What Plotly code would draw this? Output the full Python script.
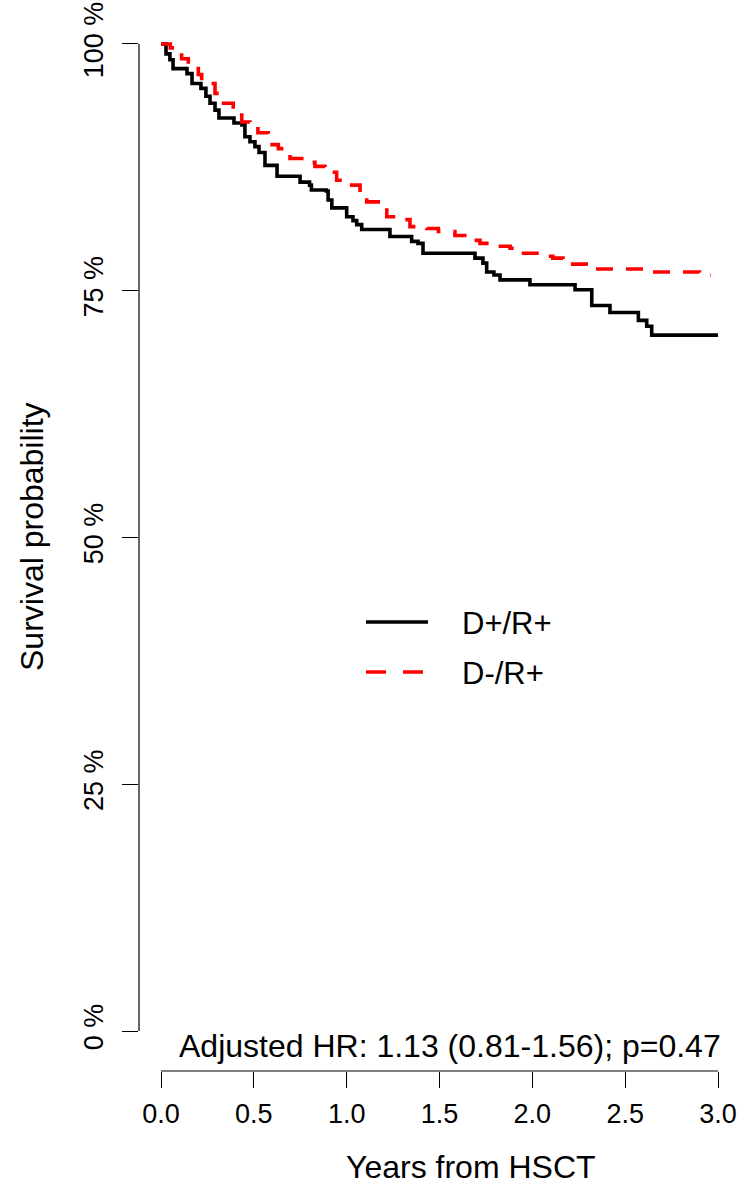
import plotly.graph_objects as go

# D+/R+ (black, solid) step times (years) and survival after each step
t_pos = [0.0, 0.027, 0.048, 0.065, 0.14, 0.167, 0.215, 0.242, 0.264, 0.291, 0.312, 0.393, 0.436,
         0.452, 0.479, 0.506, 0.528, 0.560, 0.625, 0.749, 0.80, 0.81, 0.89, 0.90, 0.92, 1.0, 1.034,
         1.054, 1.081, 1.233, 1.35, 1.384, 1.411, 1.691, 1.734, 1.754, 1.793, 1.826, 1.987, 2.23,
         2.32, 2.418, 2.571, 2.616, 2.643, 3.0]
s_pos = [1.0, 0.99, 0.984, 0.975, 0.970, 0.960, 0.955, 0.947, 0.940, 0.933, 0.925, 0.920, 0.918,
         0.906, 0.901, 0.896, 0.890, 0.877, 0.866, 0.860, 0.857, 0.852, 0.851, 0.842, 0.834, 0.825, 0.821,
         0.817, 0.812, 0.805, 0.800, 0.798, 0.788, 0.783, 0.778, 0.769, 0.766, 0.761, 0.756, 0.751,
         0.735, 0.728, 0.720, 0.714, 0.705, 0.705]

# D-/R+ (red, dashed)
t_neg = [0.0, 0.05, 0.111, 0.147, 0.201, 0.219, 0.291, 0.327, 0.389, 0.435, 0.479, 0.522, 0.578,
         0.632, 0.695, 0.758, 0.829, 0.883, 0.946, 1.009, 1.072, 1.108, 1.170, 1.216, 1.287, 1.341,
         1.431, 1.494, 1.583, 1.646, 1.718, 1.790, 1.880, 1.907, 2.057, 2.11, 2.165, 2.29, 2.64, 2.90, 2.96]
s_neg = [1.0, 0.996, 0.985, 0.979, 0.969, 0.960, 0.950, 0.940, 0.931, 0.921, 0.914, 0.910, 0.898,
         0.894, 0.884, 0.880, 0.876, 0.870, 0.862, 0.857, 0.850, 0.840, 0.834, 0.825, 0.822, 0.815,
         0.813, 0.810, 0.806, 0.801, 0.798, 0.795, 0.793, 0.788, 0.785, 0.783, 0.777, 0.772, 0.769, 0.766, 0.766]

x_ticks = [0.0, 0.5, 1.0, 1.5, 2.0, 2.5, 3.0]
x_tick_labels = ["0.0", "0.5", "1.0", "1.5", "2.0", "2.5", "3.0"]
y_ticks = [0.0, 0.25, 0.5, 0.75, 1.0]
y_tick_labels = ["0 %", "25 %", "50 %", "75 %", "100 %"]

group_names = ["D+/R+", "D-/R+"]
hr_text = "Adjusted HR: 1.13 (0.81-1.56); p=0.47"

FONT = "Liberation Sans, Arial, sans-serif"

fig = go.Figure()
fig.add_trace(go.Scatter(x=t_pos, y=s_pos, mode="lines", line_shape="hv", name=group_names[0],
                         line=dict(color="black", width=3.6), showlegend=False))
fig.add_trace(go.Scatter(x=t_neg, y=s_neg, mode="lines", line_shape="hv", name=group_names[1],
                         line=dict(color="#ff0000", width=3.6, dash="17px,13px"), showlegend=False))

W, H = 739, 1187
ml, mr, mt, mb = 139, 0, 4, 116

fig.update_layout(
    width=W, height=H,
    margin=dict(l=ml, r=mr, t=mt, b=mb),
    paper_bgcolor="white", plot_bgcolor="white",
    font=dict(family=FONT, color="black"),
    xaxis=dict(range=[-0.1185, 3.113], tickvals=x_ticks, ticktext=x_tick_labels,
               ticks="outside", ticklen=16, tickwidth=1.2, tickcolor="black",
               showgrid=False, zeroline=False, showline=False,
               tickfont=dict(size=27, family=FONT), ticklabelstandoff=3),
    yaxis=dict(range=[-0.0405, 1.0405], tickvals=y_ticks, ticktext=y_tick_labels,
               ticks="outside", ticklen=16, tickwidth=1.2, tickcolor="black",
               showgrid=False, zeroline=False, showline=False, tickangle=-90,
               tickfont=dict(size=27, family=FONT), ticklabelstandoff=8),
)

# R-style axis lines spanning only the tick range
fig.add_shape(type="line", xref="paper", yref="y", x0=0, x1=0, y0=0, y1=1,
              line=dict(color="black", width=1.2))
fig.add_shape(type="line", xref="x", yref="paper", x0=0, x1=3, y0=0, y1=0,
              line=dict(color="black", width=1.2))

def px_x(p):
    return (p - ml) / (W - ml - mr)

def px_y(p):
    return (H - mb - p) / (H - mt - mb)

# Axis titles
fig.add_annotation(text="Survival probability", xref="paper", yref="paper",
                   x=px_x(32), y=px_y(537), textangle=-90, showarrow=False,
                   font=dict(size=32, family=FONT), xanchor="center", yanchor="middle")
fig.add_annotation(text="Years from HSCT", xref="paper", yref="paper",
                   x=px_x(471), y=px_y(1167), showarrow=False,
                   font=dict(size=32, family=FONT), xanchor="center", yanchor="middle")
fig.add_annotation(text=hr_text, xref="paper", yref="paper",
                   x=px_x(450), y=px_y(1046), showarrow=False,
                   font=dict(size=32, family=FONT), xanchor="center", yanchor="middle")

# Legend (drawn manually, R style)
fig.add_shape(type="line", xref="paper", yref="paper", x0=px_x(366), x1=px_x(428),
              y0=px_y(622), y1=px_y(622), line=dict(color="black", width=3.6))
fig.add_shape(type="line", xref="paper", yref="paper", x0=px_x(366), x1=px_x(428),
              y0=px_y(672), y1=px_y(672), line=dict(color="#ff0000", width=3.6, dash="20px,17px"))
fig.add_annotation(text=group_names[0], xref="paper", yref="paper", x=px_x(460), y=px_y(623),
                   showarrow=False, xanchor="left", yanchor="middle", font=dict(size=31, family=FONT))
fig.add_annotation(text=group_names[1], xref="paper", yref="paper", x=px_x(460), y=px_y(673),
                   showarrow=False, xanchor="left", yanchor="middle", font=dict(size=31, family=FONT))

fig.write_html("out.html", config={"displayModeBar": False},
               post_script="document.body.style.margin='0';")
